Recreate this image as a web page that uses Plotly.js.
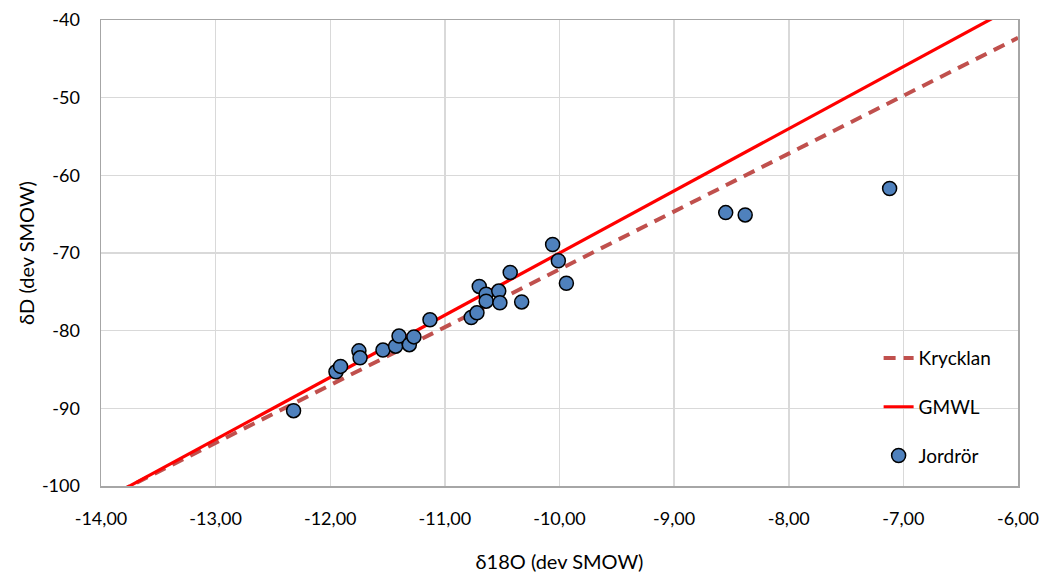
<!DOCTYPE html>
<html><head><meta charset="utf-8">
<script src="https://cdn.plot.ly/plotly-3.0.1.min.js"></script>
<style>html,body{margin:0;padding:0;background:#fff}#chart{width:1043px;height:573px}</style>
</head><body><div id="chart"></div>
<script>
// Jordrör samples
const jordrorX = [-12.32,-11.95,-11.91,-11.75,-11.74,-11.54,-11.43,-11.40,-11.31,-11.27,-11.13,-10.77,-10.72,-10.70,-10.64,-10.64,-10.53,-10.52,-10.43,-10.33,-10.06,-10.01,-9.94,-8.55,-8.38,-7.12];
const jordrorY = [-90.3,-85.3,-84.6,-82.6,-83.5,-82.5,-82.0,-80.7,-81.8,-80.8,-78.6,-78.3,-77.7,-74.3,-75.3,-76.2,-74.9,-76.4,-72.5,-76.3,-68.9,-71.0,-73.9,-64.8,-65.1,-61.7];
// Line endpoints
const gmwlX = [-14, -6];
const gmwlY = [-102, -38];
const krycklanX = [-14, -6];
const krycklanY = [-101.9, -42.3];
// Tick labels
const xTickVals = [-14, -13, -12, -11, -10, -9, -8, -7, -6];
const xTickText = ['-14,00','-13,00','-12,00','-11,00','-10,00','-9,00','-8,00','-7,00','-6,00'];
const yTickVals = [-100, -90, -80, -70, -60, -50, -40];
const yTickText = ['-100','-90','-80','-70','-60','-50','-40'];

const font = "Lato, 'Open Sans', sans-serif";
const traces = [
  {x: krycklanX, y: krycklanY, mode: 'lines', name: 'Krycklan', legendgroup: 'a',
   line: {color: '#C0504D', width: 4, dash: '12px,8px'}},
  {x: gmwlX, y: gmwlY, mode: 'lines', name: 'GMWL', legendgroup: 'b',
   line: {color: '#FF0000', width: 3.2}},
  {x: jordrorX, y: jordrorY, mode: 'markers', name: 'Jordrör', legendgroup: 'c',
   marker: {color: '#4F81BD', size: 14, line: {color: '#000', width: 1.5}}}
];
const layout = {
  width: 1043, height: 573,
  margin: {l: 101, r: 25, t: 20, b: 87},
  paper_bgcolor: '#fff', plot_bgcolor: '#fff',
  font: {family: font, size: 18, color: '#000'},
  showlegend: true,
  legend: {x: 0.848, y: 0.315, xanchor: 'left', yanchor: 'top', bgcolor: 'rgba(255,255,255,0)',
           font: {size: 19}, tracegroupgap: 21},
  xaxis: {range: [-14, -6], tickmode: 'array', tickvals: xTickVals, ticktext: xTickText, showgrid: true,
          gridcolor: '#D9D9D9', gridwidth: 1.5, zeroline: false,
          showline: true, linecolor: '#A6A6A6', linewidth: 1.5, mirror: true,
          ticks: '', ticklabelstandoff: 16,
          title: {text: 'δ18O (dev SMOW)', font: {size: 20}, standoff: 28}},
  yaxis: {range: [-100, -40], tickmode: 'array', tickvals: yTickVals, ticktext: yTickText, showgrid: true,
          gridcolor: '#D9D9D9', gridwidth: 1.5, zeroline: false,
          showline: true, linecolor: '#A6A6A6', linewidth: 1.5, mirror: true,
          ticks: '', ticklabelstandoff: 16,
          title: {text: 'δD (dev SMOW)', font: {size: 20}, standoff: 2}}
};
Plotly.newPlot('chart', traces, layout, {displayModeBar: false, staticPlot: true});
</script></body></html>
